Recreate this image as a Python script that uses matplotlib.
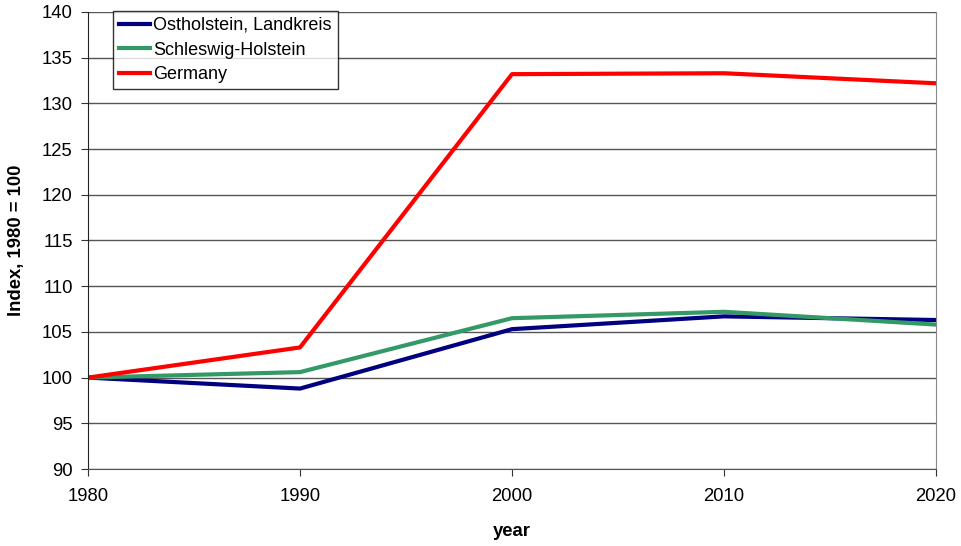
import matplotlib
matplotlib.use("Agg")
import matplotlib.pyplot as plt

plt.rcParams["font.family"] = ["Liberation Sans", "DejaVu Sans"]

years = [1980, 1990, 2000, 2010, 2020]
ostholstein = [100.0, 98.8, 105.3, 106.7, 106.3]
schleswig_holstein = [100.0, 100.6, 106.5, 107.2, 105.8]
germany = [100.0, 103.3, 133.2, 133.3, 132.2]

fig = plt.figure(figsize=(9.62, 5.46), dpi=100)
ax = fig.add_axes([88 / 962, 1 - 469 / 546, (936 - 88) / 962, (469 - 12) / 546])

ax.plot(years, ostholstein, color="#000080", lw=3, label="Ostholstein, Landkreis")
ax.plot(years, schleswig_holstein, color="#339966", lw=3, label="Schleswig-Holstein")
ax.plot(years, germany, color="#FF0000", lw=3, label="Germany")

ax.set_xlim(1980, 2020)
ax.set_ylim(90, 140)
ax.set_xticks(years)
ax.set_yticks(range(90, 141, 5))
ax.yaxis.grid(True, color="#555555", lw=1)
ax.set_axisbelow(True)
ax.tick_params(labelsize=13.3, direction="out", length=5, color="#333333")
ax.tick_params(axis="x", pad=9)
ax.tick_params(axis="y", pad=6)
ax.spines["right"].set_color("#888888")
ax.spines["top"].set_visible(False)
ax.spines["left"].set_color("#222222")
ax.spines["bottom"].set_color("#555555")

ax.set_xlabel("year", fontsize=13.3, fontweight="bold", labelpad=13)
ax.set_ylabel("Index, 1980 = 100", fontsize=13.3, fontweight="bold", labelpad=12)

leg = ax.legend(loc="upper left", bbox_to_anchor=(0.029, 1.003), fontsize=13,
                frameon=True, fancybox=False, edgecolor="black", handlelength=1.7,
                borderpad=0.35, labelspacing=0.42, handletextpad=0.2, borderaxespad=0)
leg.get_frame().set_linewidth(1)

plt.savefig("out.png", dpi=100)
